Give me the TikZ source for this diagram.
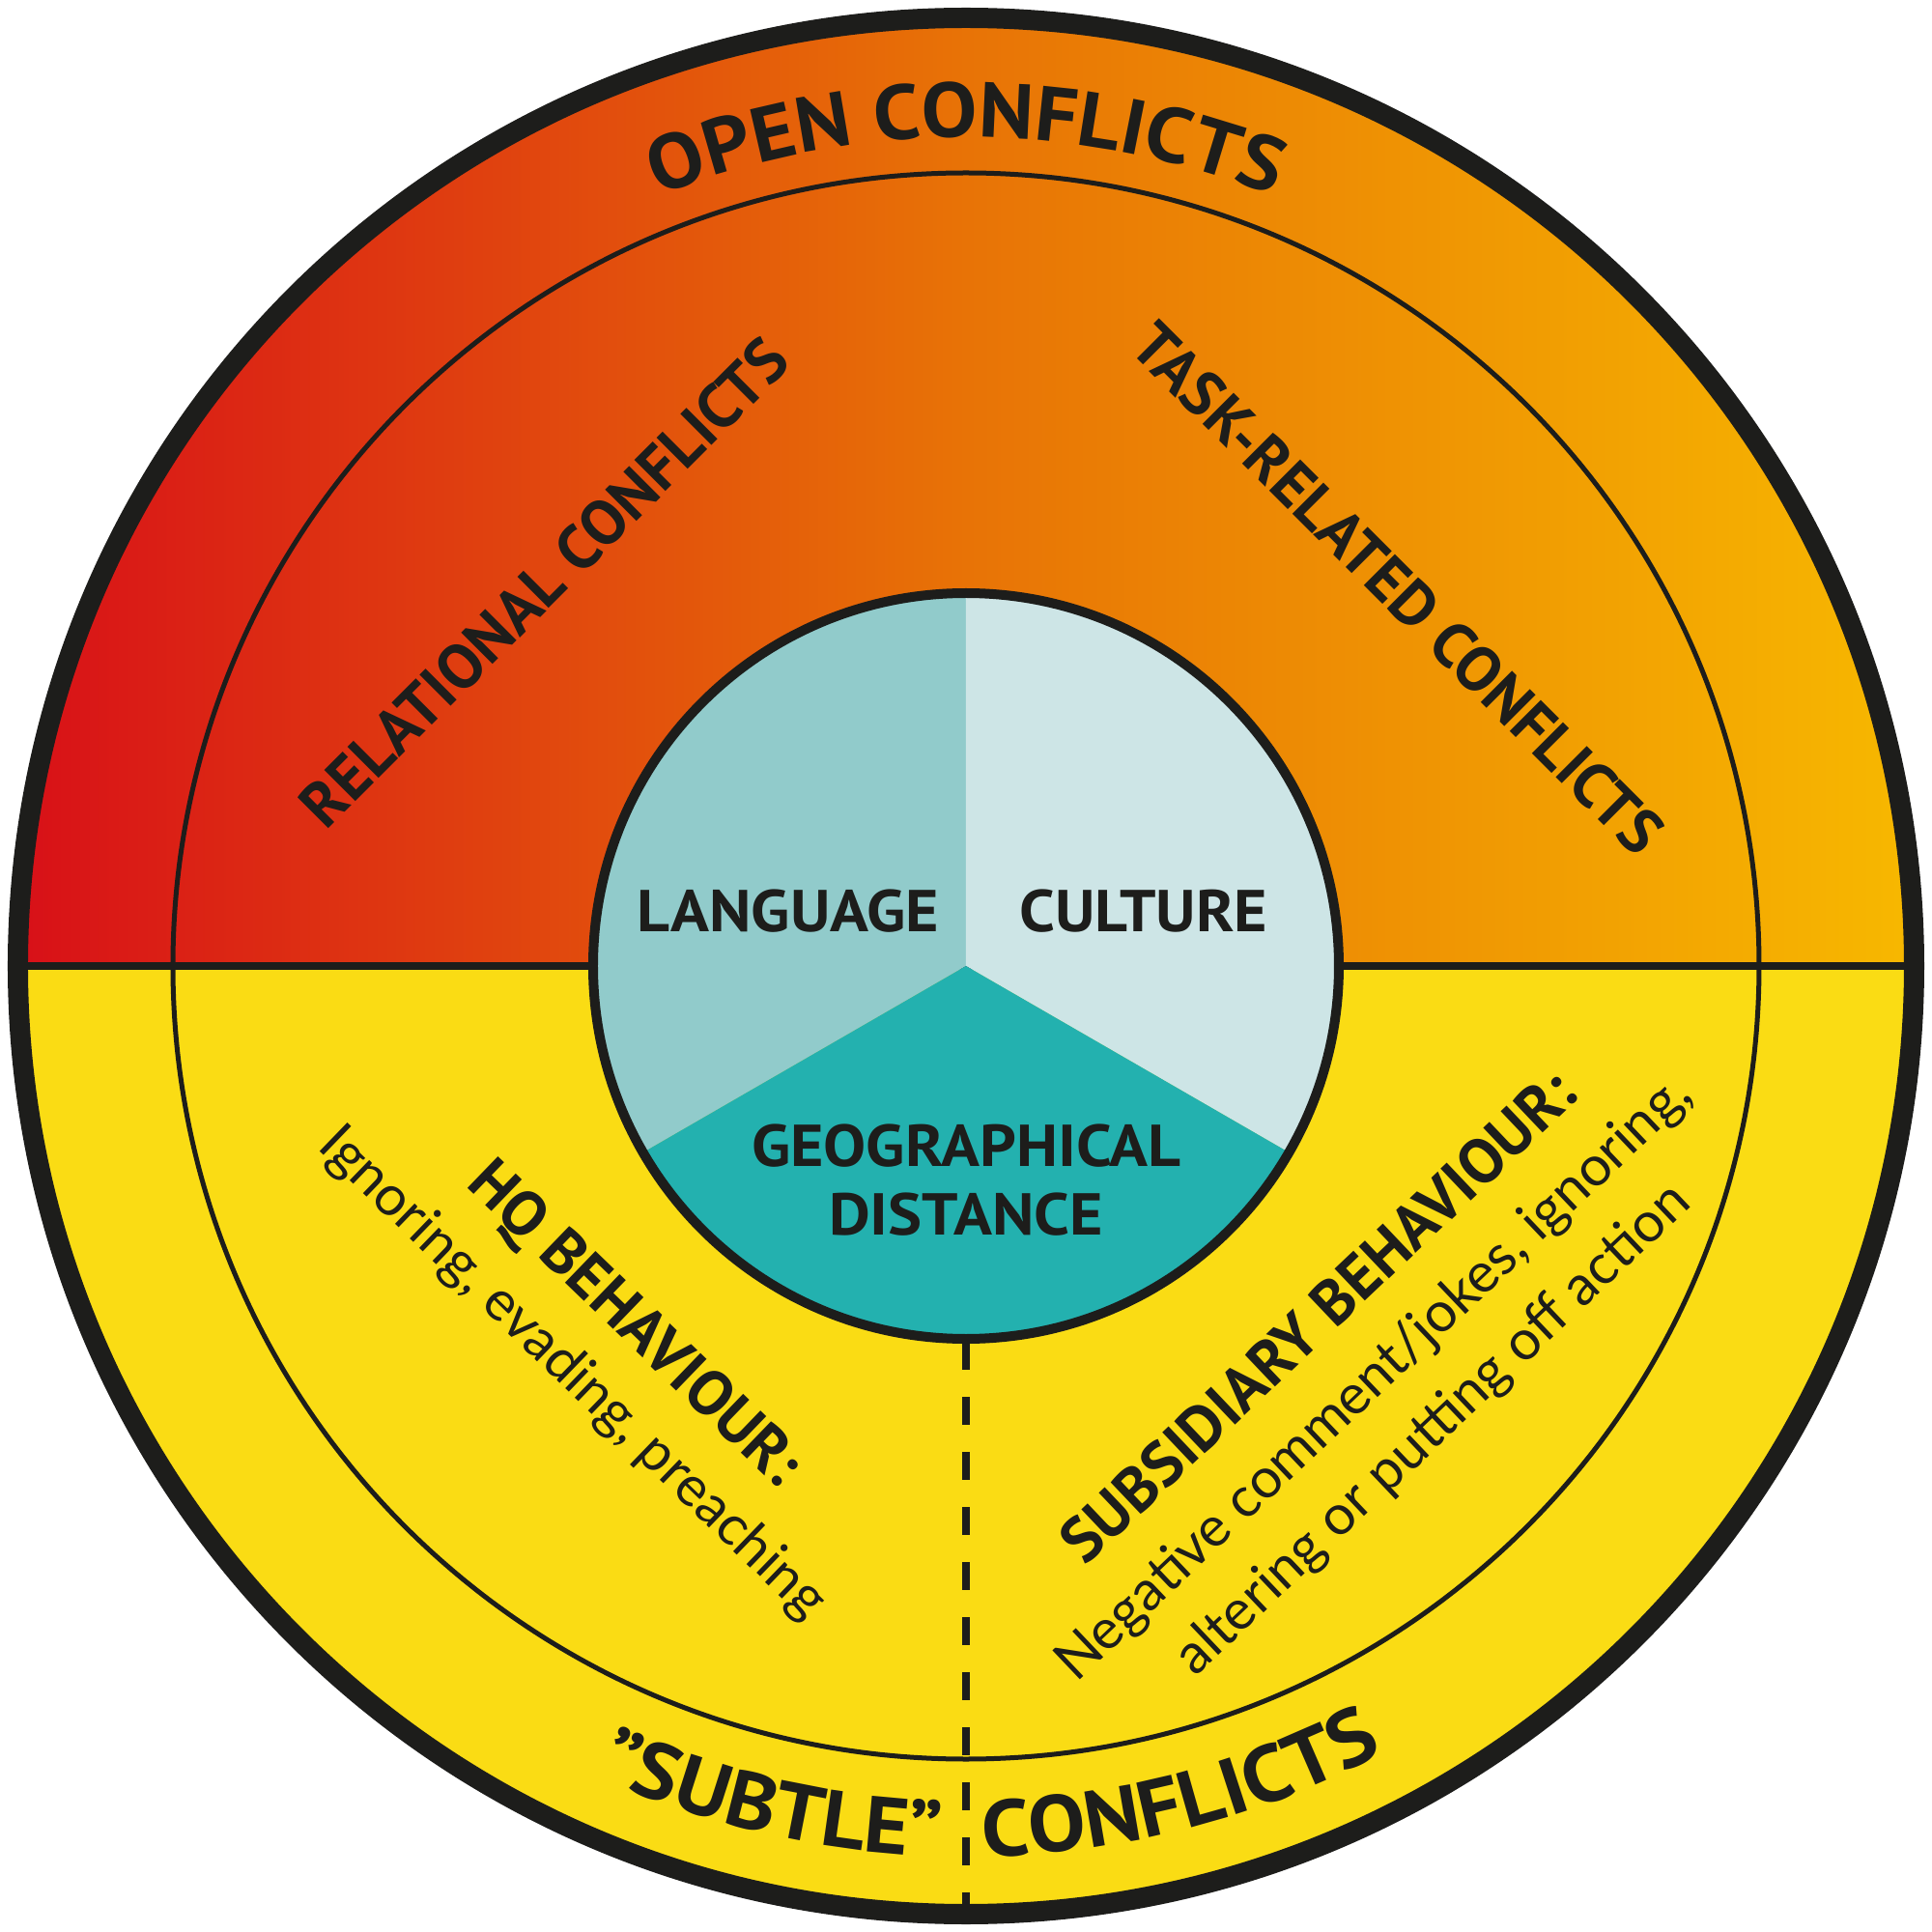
\documentclass[tikz,border=0pt]{standalone}
\usepackage{fontspec}
\setmainfont{PT Sans}
\newfontfamily\capfont{PT Sans}
\newfontfamily\capwide{PT Sans}[FakeStretch=1.08]
\newfontfamily\txtfont{Lato}
\usetikzlibrary{decorations.text}
\definecolor{ink}{HTML}{1D1D1B}
\definecolor{cRed}{HTML}{D81018}
\definecolor{cMid}{HTML}{E87306}
\definecolor{cAmb}{HTML}{F7B800}
\definecolor{cYel}{HTML}{FADC14}
\definecolor{cLang}{HTML}{91CBCB}
\definecolor{cCult}{HTML}{CDE5E6}
\definecolor{cGeo}{HTML}{23B1AF}
\tikzset{
  capslbl/.style={font=\capfont\bfseries\fontsize{18.5}{22}\selectfont, text=ink, inner sep=0pt},
  innerlbl/.style={font=\capwide\bfseries\fontsize{17.4}{20.2}\selectfont, text=ink, inner sep=0pt, align=center},
  bodylbl/.style={font=\txtfont\fontsize{16.4}{20}\selectfont, text=ink, inner sep=0pt},
  outerring/.style={draw=ink, line width=0.21cm},
  thinring/.style={draw=ink, line width=0.05cm},
  divider/.style={draw=ink, line width=0.09cm},
  innerring/.style={draw=ink, line width=0.10cm},
  dashline/.style={draw=ink, line width=0.08cm, dash pattern=on 0.29cm off 0.28cm},
}
\begin{document}
\begin{tikzpicture}
\useasboundingbox (-10,-10) rectangle (10,10);
% halves
\shade[left color=cRed, right color=cAmb, middle color=cMid]
  (-9.815,0) arc[start angle=180, end angle=0, radius=9.815] -- cycle;
\fill[cYel] (9.815,0) arc[start angle=0, end angle=-180, radius=9.815] -- cycle;
% middle circle
\draw[thinring] (0,0) circle[radius=8.21];
% divider
\coordinate (dl) at (-9.815,0);
\coordinate (dr) at (9.815,0);
\draw[divider] (dl) -- (dr);
% dashed line
\coordinate (inB) at (0,-3.89);
\coordinate (outB) at (0,-9.815);
\draw[dashline] (inB) -- (outB);
% inner sectors
\fill[cLang] (0,0) -- (90:3.86) arc[start angle=90, end angle=210, radius=3.86] -- cycle;
\fill[cCult] (0,0) -- (-30:3.86) arc[start angle=-30, end angle=90, radius=3.86] -- cycle;
\fill[cGeo] (0,0) -- (210:3.86) arc[start angle=210, end angle=330, radius=3.86] -- cycle;
\draw[innerring] (0,0) circle[radius=3.86];
% outer ring
\draw[outerring] (0,0) circle[radius=9.815];
% inner labels
\node[innerlbl] (lang) at (-1.84,0.565) {LANGUAGE};
\node[innerlbl] (cult) at (1.84,0.565) {CULTURE};
\node[innerlbl] (geo) at (0,-2.22) {GEOGRAPHICAL\\DISTANCE};
% curved titles
\path[decorate, decoration={text along path, text align=center,
  text={|\capwide\bfseries\fontsize{22.8}{27}\selectfont\color{ink}|OPEN CONFLICTS}}]
  (180:8.58) arc[start angle=180, end angle=0, radius=8.58];
\path[decorate, decoration={text along path, text align=right,
  text={|\capwide\bfseries\fontsize{23.5}{28}\selectfont\color{ink}|”SUBTLE”}}]
  (200:9.22) arc[start angle=200, end angle=268.4, radius=9.22];
\path[decorate, decoration={text along path, text align=left,
  text={|\capwide\bfseries\fontsize{23.5}{28}\selectfont\color{ink}|CONFLICTS}}]
  (271.1:9.22) arc[start angle=271.1, end angle=340, radius=9.22];
% diagonal titles
\node[capslbl, rotate=45] (rel) at (-4.37,3.97) {RELATIONAL CONFLICTS};
\node[capslbl, rotate=-45] (task) at (4.47,3.91) {TASK-RELATED CONFLICTS};
% HQ block
\begin{scope}[shift={(-4.08,-4.22)}, rotate=-44]
  \node[capslbl, transform shape] (hqh) at (0.11,0.79) {HQ BEHAVIOUR:};
  \node[bodylbl, transform shape] (hqt) at (0,0) {Ignoring, evading, preaching};
\end{scope}
% subsidiary block
\begin{scope}[shift={(4.23,-4.28)}, rotate=43.5]
  \node[capslbl, transform shape] (subh) at (0.02,0.88) {SUBSIDIARY BEHAVIOUR:};
  \node[bodylbl, transform shape] (subt1) at (0,0) {Negative comment/jokes, ignoring,};
  \node[bodylbl, transform shape] (subt2) at (0.08,-0.80) {altering or putting off action};
\end{scope}
\end{tikzpicture}
\end{document}
